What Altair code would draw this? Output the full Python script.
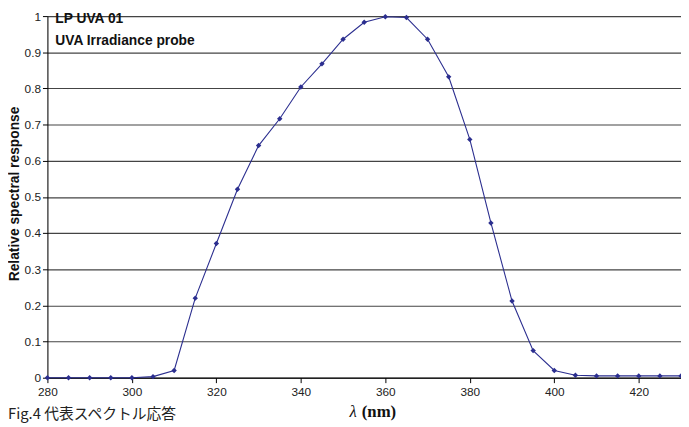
import altair as alt
import pandas as pd

wavelength = [280, 285, 290, 295, 300, 305, 310, 315, 320, 325, 330, 335, 340, 345,
              350, 355, 360, 365, 370, 375, 380, 385, 390, 395, 400, 405, 410, 415,
              420, 425, 430]
response = [0, 0, 0, 0, 0, 0.003, 0.02, 0.22, 0.371, 0.521, 0.642, 0.716, 0.804, 0.868,
            0.936, 0.983, 0.998, 0.996, 0.936, 0.832, 0.659, 0.428, 0.212, 0.075,
            0.02, 0.007, 0.005, 0.005, 0.005, 0.005, 0.005]
x_ticks = [280, 300, 320, 340, 360, 380, 400, 420]
y_ticks = [0, 0.1, 0.2, 0.3, 0.4, 0.5, 0.6, 0.7, 0.8, 0.9, 1]
title_lines = ["LP UVA 01", "UVA Irradiance probe"]
caption = "Fig.4  代表スペクトル応答"

df = pd.DataFrame({"wl": wavelength, "resp": response})

W, H = 643, 367
blue = "#2B2E8F"

x = alt.X("wl:Q", scale=alt.Scale(domain=[280, 430], nice=False, zero=False),
          axis=alt.Axis(values=x_ticks, title=None, grid=False, labelFont="Liberation Sans",
                        labelFontSize=12, labelColor="#222", tickColor="#000",
                        domainColor="#000", tickSize=5, labelPadding=4, labelFlush=False))
y = alt.Y("resp:Q", scale=alt.Scale(domain=[0, 1], nice=False),
          axis=alt.Axis(values=y_ticks, title="Relative spectral response",
                        titleFont="Liberation Sans", titleFontSize=14, titleFontWeight="bold",
                        titleColor="#111", titleX=-33, titleY=180, titleAngle=270,
                        titleBaseline="middle", titleAlign="center",
                        labelFont="Liberation Sans", labelFontSize=12, labelColor="#222",
                        grid=True, gridColor="#444", gridWidth=1.2,
                        tickColor="#000", domainColor="#000", tickSize=5, labelPadding=2,
                        labelFlush=False, format="~g"))

line = alt.Chart(df).mark_line(color=blue, strokeWidth=1.1).encode(x=x, y=y)
pts = alt.Chart(df).mark_point(shape="diamond", filled=True, color=blue, size=30, opacity=1).encode(x=x, y=y)


def label(text, px, py, **kw):
    return alt.Chart(pd.DataFrame({"t": [text]})).mark_text(**kw).encode(
        x=alt.value(px), y=alt.value(py), text="t:N")


t1 = label(title_lines[0], 8, 3, align="left", baseline="middle", font="Liberation Sans",
           fontSize=14, fontWeight="bold", color="#111")
t2 = label(title_lines[1], 8, 25, align="left", baseline="middle", font="Liberation Sans",
           fontSize=14, fontWeight="bold", color="#111")
xt = label("λ", 314, 402, align="right", baseline="middle", font="Liberation Serif",
           fontSize=17, fontStyle="italic", color="#111")
xt2 = label("(nm)", 319, 402, align="left", baseline="middle", font="Liberation Serif",
            fontSize=17, fontWeight="bold", color="#111")
cap = label(caption, -40, 397, align="left", baseline="top", font="Noto Sans CJK JP",
            fontSize=15, color="#222")

chart = alt.layer(line, pts, t1, t2, xt, xt2, cap).properties(
    width=W, height=H,
    autosize=alt.AutoSizeParams(type="none"),
    padding={"left": 40, "top": 5, "right": 0, "bottom": 60},
).configure_view(stroke=None, clip=False).configure(background="white")

chart.save("out.html", embed_options={"renderer": "svg", "actions": False})
